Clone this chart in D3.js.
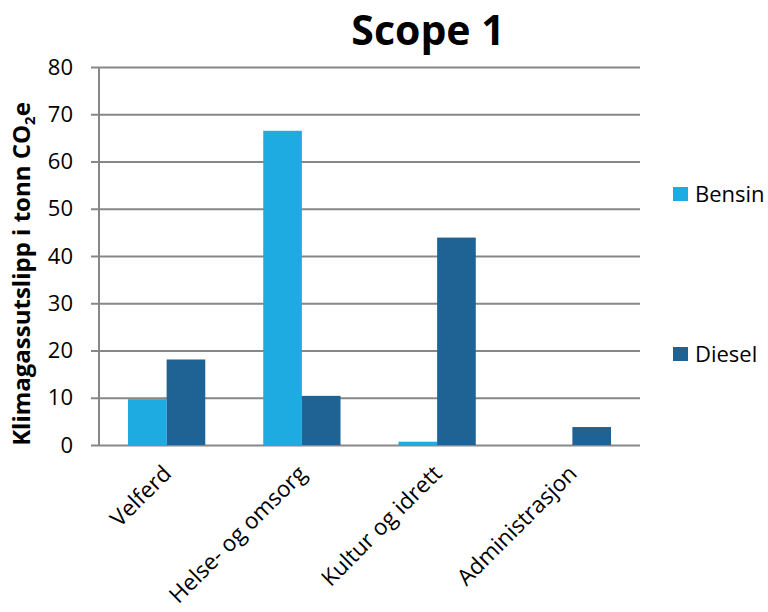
<!DOCTYPE html>
<html>
<head>
<meta charset="utf-8">
<script src="https://cdn.jsdelivr.net/npm/d3@7"></script>
<style>
    body { margin: 0; background: #fff; }
    text { font-family: "Open Sans", "Noto Sans", sans-serif; fill: #000; }
</style>
</head>
<body>
<div id="chart"></div>
<script>
// data
let categories = ["Velferd", "Helse- og omsorg", "Kultur og idrett", "Administrasjon"]
let seriesNames = ["Bensin", "Diesel"]
let bensin = [9.7, 66.5, 0.7, 0]
let diesel = [18.1, 10.4, 43.9, 3.8]
let yTicks = [0, 10, 20, 30, 40, 50, 60, 70, 80]

let colors = d3.scaleOrdinal()
    .domain(seriesNames)
    .range(["#1DABE2", "#1E6394"])

let width = 768
let height = 612

let plotLeft = 99, plotRight = 640, plotTop = 67, plotBottom = 445

let svg = d3.select("#chart")
    .append("svg")
    .attr("width", width)
    .attr("height", height)

let x = d3.scaleBand()
    .domain(categories)
    .range([plotLeft, plotRight])

let x1 = d3.scaleBand()
    .domain(seriesNames)
    .range([0, x.bandwidth()])
    .paddingInner(0)
    .paddingOuter(0.75)

let y = d3.scaleLinear()
    .domain([0, 80])
    .range([plotBottom, plotTop])

// gridlines + y axis
let yAxis = d3.axisLeft(y)
    .tickValues(yTicks)
    .tickSize(-(plotRight - plotLeft))
    .tickPadding(26)

let gy = svg.append("g")
    .attr("transform", "translate(" + plotLeft + ",0)")
    .call(yAxis)

gy.select(".domain").remove()
gy.selectAll(".tick line")
    .attr("x1", -8)
    .attr("stroke", "#878787")
    .attr("stroke-width", 2)
gy.selectAll(".tick text")
    .style("font-size", "22px")
    .attr("fill", "#000")

svg.append("line")
    .attr("x1", plotLeft).attr("x2", plotLeft)
    .attr("y1", plotTop).attr("y2", plotBottom)
    .attr("stroke", "#878787")
    .attr("stroke-width", 2)

// bars
let rows = categories.map((c, i) => ({ cat: c, Bensin: bensin[i], Diesel: diesel[i] }))

svg.append("g")
    .selectAll("g")
    .data(rows)
    .enter()
    .append("g")
    .attr("transform", d => "translate(" + x(d.cat) + ",0)")
    .selectAll("rect")
    .data(d => seriesNames.map(s => ({ key: s, value: d[s] })))
    .enter()
    .append("rect")
    .attr("x", d => x1(d.key))
    .attr("width", x1.bandwidth())
    .attr("y", d => y(d.value))
    .attr("height", d => plotBottom - y(d.value))
    .style("fill", d => colors(d.key))

// x labels
svg.append("g")
    .selectAll("text")
    .data(categories)
    .enter()
    .append("text")
    .attr("text-anchor", "end")
    .attr("transform", d => "translate(" + (x(d) + x.bandwidth() / 2 + 6) + "," + (plotBottom + 30) + ") rotate(-45)")
    .style("font-size", "22.5px")
    .text(d => d)

// title
svg.append("text")
    .attr("x", 428)
    .attr("y", 45)
    .attr("text-anchor", "middle")
    .style("font-size", "41px")
    .style("font-weight", "bold")
    .text("Scope 1")

// y label
let yl = svg.append("text")
    .attr("transform", "translate(30,274) rotate(-90)")
    .attr("text-anchor", "middle")
    .style("font-size", "24px")
    .style("font-weight", "bold")
yl.append("tspan").text("Klimagassutslipp i tonn CO")
yl.append("tspan").attr("dy", 5).style("font-size", "15px").text("2")
yl.append("tspan").attr("dy", -5).text("e")

// legend
let legendY = [194, 354]
let legend = svg.append("g")
    .selectAll("g")
    .data(seriesNames)
    .enter()
    .append("g")
    .attr("transform", (d, i) => "translate(673," + legendY[i] + ")")

legend.append("rect")
    .attr("x", 0)
    .attr("y", -7)
    .attr("width", 15)
    .attr("height", 14)
    .style("fill", d => colors(d))

legend.append("text")
    .attr("x", 22)
    .attr("dy", "0.35em")
    .style("font-size", "22px")
    .text(d => d)
</script>
</body>
</html>
